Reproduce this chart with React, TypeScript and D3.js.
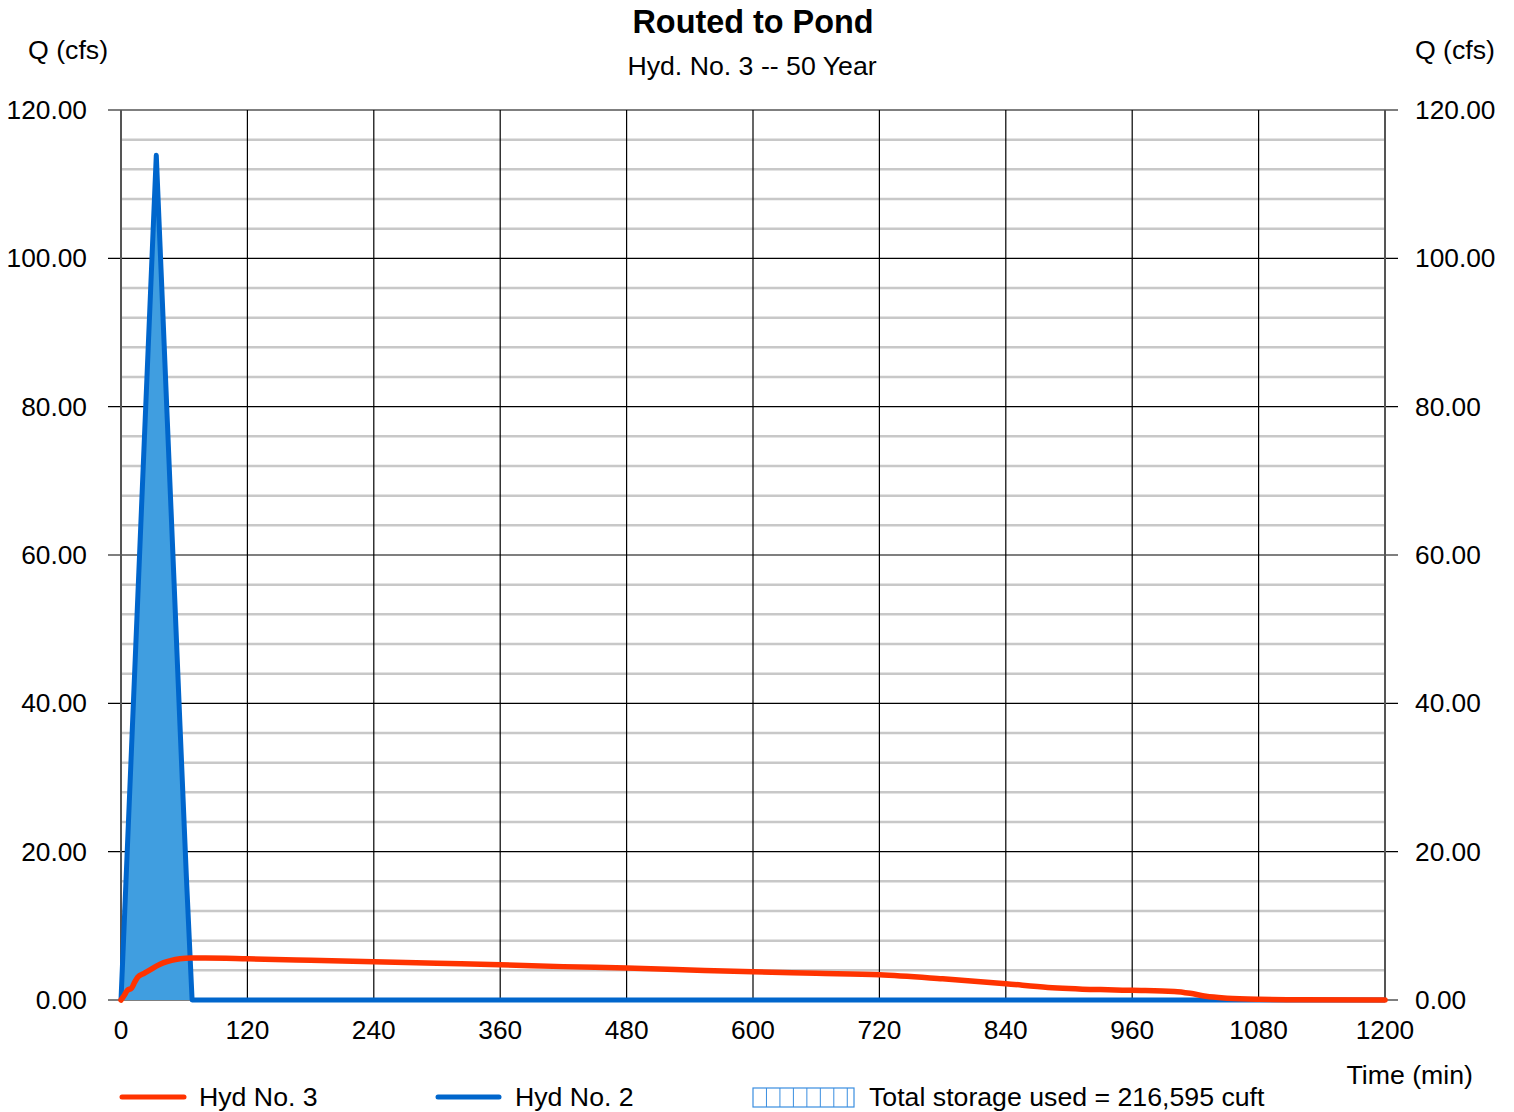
import React from "react";
import * as d3 from "d3";

const title = "Routed to Pond";
const subtitle = "Hyd. No. 3 -- 50 Year";
const yTicks = [0, 20, 40, 60, 80, 100, 120];
const yMinor = d3.range(0, 121, 4);
const xTicks = [0, 120, 240, 360, 480, 600, 720, 840, 960, 1080, 1200];

// Hyd No. 2 (inflow)
const blueT = [0, 4, 10, 16, 22, 28, 33.5, 38, 44, 50, 56, 62, 67.5, 1200];
const blueQ = [0, 13.5, 34, 54.5, 75, 95.3, 113.9, 98.5, 78, 57.6, 37, 16.8, 0, 0];

// Hyd No. 3 (routed)
const redT = [0, 3, 6, 10, 13, 16, 22, 28, 34, 40, 48, 56, 66, 80, 120, 180, 240, 300, 360, 420, 480, 540, 600, 660, 720, 780, 840, 880, 930, 960, 1000, 1015, 1030, 1050, 1080, 1120, 1200];
const redQ = [0, 0.6, 1.3, 1.6, 2.4, 3.1, 3.6, 4.1, 4.6, 5.0, 5.35, 5.55, 5.65, 5.65, 5.55, 5.35, 5.15, 4.95, 4.75, 4.5, 4.3, 4.05, 3.8, 3.6, 3.4, 2.85, 2.2, 1.7, 1.4, 1.3, 1.15, 0.9, 0.5, 0.25, 0.1, 0.04, 0];

const legendLabels = ["Hyd No. 3", "Hyd No. 2", "Total storage used = 216,595 cuft"];

const W = 1514, H = 1112;
const FONT = "'Liberation Sans', Arial, sans-serif";
const RED = "#ff3300";
const BLUE = "#0066cc";
const FILL = "#409ee0";
const FS = 26.7;
const TFS = 26.3;

export default function App() {
  const x = d3.scaleLinear().domain([0, 1200]).range([121, 1385]);
  const y = d3.scaleLinear().domain([0, 120]).range([1000, 110]);

  const blue = blueT.map((t, i) => [t, blueQ[i]] as [number, number]);
  const red = redT.map((t, i) => [t, redQ[i]] as [number, number]);

  const line = d3.line<[number, number]>().x(d => x(d[0])).y(d => y(d[1]));
  const area = d3.area<[number, number]>().x(d => x(d[0])).y0(y(0)).y1(d => y(d[1]));
  const redLine = d3.line<[number, number]>().x(d => x(d[0])).y(d => y(d[1])).curve(d3.curveMonotoneX);

  const x0 = x(0), x1 = x(1200);
  const boxX = 753, boxY = 1088, boxW = 101, boxH = 19;

  return (
    <svg width={W} height={H} style={{ position: "absolute", left: 0, top: 0, background: "#fff" }} fontFamily={FONT}>
      <rect x={0} y={0} width={W} height={H} fill="#fff" />
      {/* minor gridlines */}
      {yMinor.filter(v => v % 20 !== 0).map(v => (
        <line key={"m" + v} x1={x0} x2={x1} y1={y(v)} y2={y(v)} stroke="#c8c8c8" strokeWidth={2.5} />
      ))}
      {/* vertical grid */}
      {xTicks.slice(1, -1).map(t => (
        <line key={"v" + t} x1={x(t)} x2={x(t)} y1={y(120)} y2={y(0)} stroke="#000" strokeWidth={1.2} />
      ))}
      {/* major horizontal */}
      {yTicks.map(v => (
        <line key={"h" + v} x1={x0 - 13} x2={x1 + 13} y1={y(v)} y2={y(v)} stroke="#000" strokeWidth={1.2} />
      ))}
      <line x1={x0} x2={x0} y1={y(120)} y2={y(0)} stroke="#555" strokeWidth={2} />
      <line x1={x1} x2={x1} y1={y(120)} y2={y(0)} stroke="#555" strokeWidth={2} />

      {/* series */}
      <path d={area(blue.slice(0, 13)) || ""} fill={FILL} />
      <path d={line(blue) || ""} fill="none" stroke={BLUE} strokeWidth={5} strokeLinejoin="round" />
      <path d={redLine(red) || ""} fill="none" stroke={RED} strokeWidth={5.5} strokeLinejoin="round" strokeLinecap="round" />

      {/* y labels */}
      {yTicks.map(v => (
        <g key={"yl" + v}>
          <text x={87} y={y(v) + 9} textAnchor="end" fontSize={TFS} fill="#000">{v.toFixed(2)}</text>
          <text x={1415} y={y(v) + 9} textAnchor="start" fontSize={TFS} fill="#000">{v.toFixed(2)}</text>
        </g>
      ))}
      {/* x labels */}
      {xTicks.map(t => (
        <text key={"xl" + t} x={x(t)} y={1039} textAnchor="middle" fontSize={TFS} fill="#000">{t}</text>
      ))}
      <text x={1473} y={1084} textAnchor="end" fontSize={FS}>Time (min)</text>
      <text x={28} y={59} fontSize={FS}>Q (cfs)</text>
      <text x={1495} y={59} textAnchor="end" fontSize={FS}>Q (cfs)</text>

      <text x={753} y={33} textAnchor="middle" fontSize={32.4} fontWeight="bold">{title}</text>
      <text x={752} y={75} textAnchor="middle" fontSize={FS}>{subtitle}</text>

      {/* legend */}
      <line x1={122} x2={184} y1={1097} y2={1097} stroke={RED} strokeWidth={5} strokeLinecap="round" />
      <text x={199} y={1106} fontSize={FS}>{legendLabels[0]}</text>
      <line x1={438} x2={499} y1={1097} y2={1097} stroke={BLUE} strokeWidth={5} strokeLinecap="round" />
      <text x={515} y={1106} fontSize={FS}>{legendLabels[1]}</text>
      <rect x={boxX} y={boxY} width={boxW} height={boxH} fill="#fff" stroke="#3a8ee0" strokeWidth={1.2} />
      {d3.range(1, 8).map(i => (
        <line key={"p" + i} x1={boxX + i * (boxW / 7.5)} x2={boxX + i * (boxW / 7.5)} y1={boxY} y2={boxY + boxH} stroke="#3a8ee0" strokeWidth={1} />
      ))}
      <text x={869} y={1106} fontSize={FS}>{legendLabels[2]}</text>
    </svg>
  );
}
